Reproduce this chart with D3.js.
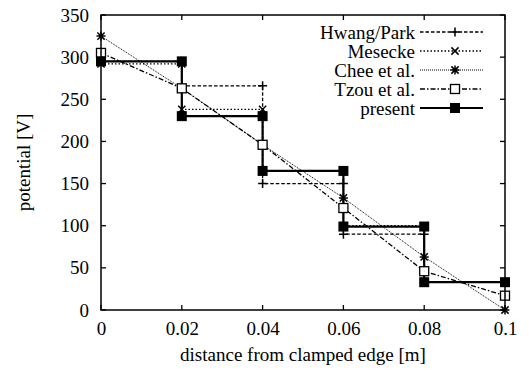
<!DOCTYPE html>
<html>
<head>
<meta charset="utf-8">
<script src="https://cdn.jsdelivr.net/npm/d3@7"></script>
<style>
  html, body { margin: 0; padding: 0; background: #fff; }
  svg text { font-family: "Liberation Serif", "Times New Roman", serif; fill: #000; }
</style>
</head>
<body>
<svg id="chart" width="529" height="372"></svg>
<script>
// Nodes along the beam (distance from clamped edge, m)
const nodes = [0, 0.02, 0.04, 0.06, 0.08, 0.1];

// Element-wise constant potentials (one level per element)
const hwangParkLevels = [295, 266, 150, 90, 33];
const meseckeLevels   = [292, 238, 165, 100, 33];
const presentLevels   = [295, 230, 165, 99, 33];

// Nodal potentials (linear interpolation between nodes)
const cheeValues = [325, 263, 196, 133, 63, 0];
const tzouValues = [305, 263, 196, 121, 46, 17];

const xTicks = [0, 0.02, 0.04, 0.06, 0.08, 0.1];
const yTicks = [0, 50, 100, 150, 200, 250, 300, 350];
const seriesNames = ["Hwang/Park", "Mesecke", "Chee et al.", "Tzou et al.", "present"];

const svg = d3.select("#chart");
const m = { left: 101, right: 505, top: 15, bottom: 310 };

const x = d3.scaleLinear().domain([0, 0.1]).range([m.left, m.right]);
const y = d3.scaleLinear().domain([0, 350]).range([m.bottom, m.top]);

// Staircase corner points from element levels
function stairs(levels) {
  const pts = [];
  levels.forEach((v, i) => {
    pts.push([nodes[i], v]);
    pts.push([nodes[i + 1], v]);
  });
  return pts;
}
function nodal(values) { return nodes.map((n, i) => [n, values[i]]); }

const line = d3.line().x(d => x(d[0])).y(d => y(d[1]));

// Marker shapes
function drawMarker(g, type, cx, cy) {
  const s = 4.5;
  if (type === "plus") {
    g.append("path").attr("d", `M${cx - s},${cy}H${cx + s}M${cx},${cy - s}V${cy + s}`)
      .attr("stroke", "#000").attr("stroke-width", 1.5).attr("fill", "none");
  } else if (type === "cross") {
    const t = 3.6;
    g.append("path").attr("d", `M${cx - t},${cy - t}L${cx + t},${cy + t}M${cx - t},${cy + t}L${cx + t},${cy - t}`)
      .attr("stroke", "#000").attr("stroke-width", 1.5).attr("fill", "none");
  } else if (type === "star") {
    const t = 3.6;
    g.append("path").attr("d", `M${cx - s},${cy}H${cx + s}M${cx},${cy - s}V${cy + s}M${cx - t},${cy - t}L${cx + t},${cy + t}M${cx - t},${cy + t}L${cx + t},${cy - t}`)
      .attr("stroke", "#000").attr("stroke-width", 1.5).attr("fill", "none");
  } else if (type === "box") {
    g.append("rect").attr("x", cx - 4.5).attr("y", cy - 4.5).attr("width", 9).attr("height", 9)
      .attr("fill", "#fff").attr("stroke", "#000").attr("stroke-width", 1.3);
    g.append("path").attr("d", `M${cx},${cy}h0.1`).attr("stroke", "#000").attr("stroke-width", 1.5);
  } else if (type === "fbox") {
    g.append("rect").attr("x", cx - 5).attr("y", cy - 5).attr("width", 10).attr("height", 10)
      .attr("fill", "#000");
  }
}

const series = [
  { name: seriesNames[0], pts: stairs(hwangParkLevels), dash: "3.5,2", width: 1.3, marker: "plus" },
  { name: seriesNames[1], pts: stairs(meseckeLevels),   dash: "1.5,2", width: 1.4, marker: "cross" },
  { name: seriesNames[2], pts: nodal(cheeValues),       dash: "1,1",   width: 1.0, marker: "star" },
  { name: seriesNames[3], pts: nodal(tzouValues),       dash: "5,2,1.5,2", width: 1.3, marker: "box" },
  { name: seriesNames[4], pts: stairs(presentLevels),   dash: null,    width: 2.2, marker: "fbox" }
];

const plot = svg.append("g");
series.forEach(s => {
  plot.append("path").attr("d", line(s.pts))
    .attr("fill", "none").attr("stroke", "#000")
    .attr("stroke-width", s.width)
    .attr("stroke-dasharray", s.dash);
});
series.forEach(s => {
  const g = plot.append("g");
  s.pts.forEach(p => drawMarker(g, s.marker, x(p[0]), y(p[1])));
});

// Border with inward ticks on all four sides
const frame = svg.append("g").attr("stroke", "#000").attr("stroke-width", 1.3).attr("fill", "none");
const tl = 5;
xTicks.forEach(t => {
  frame.append("line").attr("x1", x(t)).attr("x2", x(t)).attr("y1", m.bottom).attr("y2", m.bottom - tl);
  frame.append("line").attr("x1", x(t)).attr("x2", x(t)).attr("y1", m.top).attr("y2", m.top + tl);
});
yTicks.forEach(t => {
  frame.append("line").attr("x1", m.left).attr("x2", m.left + tl).attr("y1", y(t)).attr("y2", y(t));
  frame.append("line").attr("x1", m.right).attr("x2", m.right - tl).attr("y1", y(t)).attr("y2", y(t));
});
frame.append("rect").attr("x", m.left).attr("y", m.top)
  .attr("width", m.right - m.left).attr("height", m.bottom - m.top)
  .attr("stroke-width", 1.5);

// Tick labels via d3 axes (domain and tick lines hidden)
const fs = 19;
const xAxis = svg.append("g").attr("transform", `translate(0,${m.bottom})`)
  .call(d3.axisBottom(x).tickValues(xTicks).tickFormat(d3.format("")).tickSize(0).tickPadding(12));
const yAxis = svg.append("g").attr("transform", `translate(${m.left},0)`)
  .call(d3.axisLeft(y).tickValues(yTicks).tickFormat(d3.format("")).tickSize(0).tickPadding(12));
[xAxis, yAxis].forEach(a => {
  a.select(".domain").remove();
  a.selectAll("text").attr("font-family", "Liberation Serif").attr("font-size", fs).attr("fill", "#000");
});

// Axis titles
svg.append("text").attr("x", (m.left + m.right) / 2).attr("y", 361)
  .attr("text-anchor", "middle").attr("font-size", fs).text("distance from clamped edge [m]");
svg.append("text").attr("transform", `translate(30,${(m.top + m.bottom) / 2}) rotate(-90)`)
  .attr("text-anchor", "middle").attr("font-size", fs).text("potential [V]");

// Legend
const lg = svg.append("g");
series.forEach((s, i) => {
  const cy = 32 + i * 19;
  lg.append("text").attr("x", 415).attr("y", cy).attr("dy", "0.35em")
    .attr("text-anchor", "end").attr("font-size", fs).text(s.name);
  lg.append("line").attr("x1", 420).attr("x2", 483).attr("y1", cy).attr("y2", cy)
    .attr("stroke", "#000").attr("stroke-width", s.width).attr("stroke-dasharray", s.dash);
  drawMarker(lg, s.marker, 455, cy);
});
</script>
</body>
</html>
